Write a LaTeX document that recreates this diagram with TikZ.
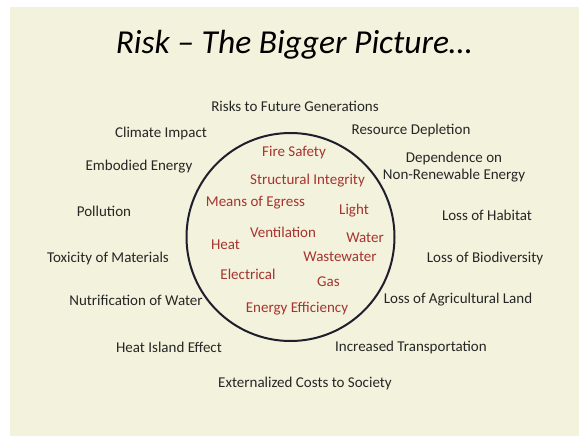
\documentclass[tikz,border=0pt]{standalone}
\usepackage{fontspec}
\setmainfont{Carlito}
\usetikzlibrary{backgrounds}
\definecolor{paper}{RGB}{243,242,220}
\definecolor{riskred}{RGB}{165,52,48}
\definecolor{ink}{RGB}{38,38,38}
\definecolor{ring}{RGB}{30,30,45}

\begin{document}
\begin{tikzpicture}[x=1pt,y=-1pt,font=\fontsize{15}{17}\selectfont]
    \useasboundingbox (0,0) rectangle (579,436);
    \fill[paper] (10,7) rectangle (579,436);

    \draw node at (294,45)[name=title,font=\fontsize{33.5}{38}\selectfont\itshape]{Risk -- The Bigger Picture\ldots};

    \draw node at (290.5,237)[name=core,circle,draw=ring,line width=2pt,minimum size=208pt]{};

    \begin{scope}[ink]
    \draw node at (295,106)[name=future]{Risks to Future Generations};
    \draw node at (411,131)[name=depletion]{Resource Depletion};
    \draw node at (161,134)[name=climate]{Climate Impact};
    \draw node at (139,167)[name=embodied]{Embodied Energy};
    \draw node at (454,167)[name=dependence,align=center]{Dependence on\\Non-Renewable Energy};
    \draw node at (104,211)[name=pollution]{Pollution};
    \draw node at (487,215)[name=habitat]{Loss of Habitat};
    \draw node at (108,258)[name=toxicity]{Toxicity of Materials};
    \draw node at (485,258)[name=biodiv]{Loss of Biodiversity};
    \draw node at (136,300)[name=nutri]{Nutrification of Water};
    \draw node at (458,300)[name=agri]{Loss of Agricultural Land};
    \draw node at (169,347)[name=island]{Heat Island Effect};
    \draw node at (411,347)[name=transport]{Increased Transportation};
    \draw node at (305,383)[name=costs]{Externalized Costs to Society};
    \end{scope}

    \begin{scope}[riskred]
    \draw node at (294,153)[name=fire]{Fire Safety};
    \draw node at (307.5,181)[name=struct]{Structural Integrity};
    \draw node at (255.5,203)[name=egress]{Means of Egress};
    \draw node at (354,211)[name=light]{Light};
    \draw node at (283,232)[name=vent]{Ventilation};
    \draw node at (225.5,245)[name=heat]{Heat};
    \draw node at (365,238)[name=water]{Water};
    \draw node at (340,257)[name=waste]{Wastewater};
    \draw node at (248,274)[name=elec]{Electrical};
    \draw node at (328.5,282)[name=gas]{Gas};
    \draw node at (297,309)[name=energy]{Energy Efficiency};
    \end{scope}
\end{tikzpicture}
\end{document}
